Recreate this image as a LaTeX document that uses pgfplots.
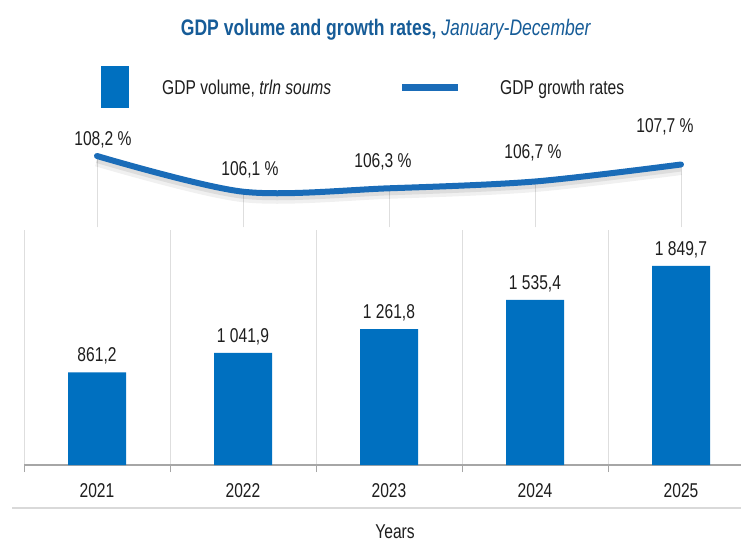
\documentclass[border=0pt]{standalone}
\usepackage{pgfplots}
\pgfplotsset{compat=1.18}
\usepackage{pgfplotstable}
\usepackage{fontspec}
\setmainfont{Liberation Sans}[FakeStretch=0.78]
\definecolor{barblue}{RGB}{0,112,192}
\definecolor{lineblue}{RGB}{26,108,184}
\definecolor{titleblue}{RGB}{22,92,152}
\definecolor{txt}{RGB}{30,30,30}

\pgfplotstableread{
x y lab
0 861.2 {861,2}
1 1041.9 {1 041,9}
2 1261.8 {1 261,8}
3 1535.4 {1 535,4}
4 1849.7 {1 849,7}
}\bardata

\pgfplotstableread{
x y lab dx dy
0 108.2 {108,2 \%} 6 10.5
1 106.1 {106,1 \%} 7 16.5
2 106.3 {106,3 \%} -6 20.5
3 106.7 {106,7 \%} -2 22.5
4 107.7 {107,7 \%} -16 31.5
}\topdata

\begin{document}
\begin{tikzpicture}
\useasboundingbox (0pt,0pt) rectangle (741pt,543pt);
\fill[white] (0pt,0pt) rectangle (741pt,543pt);

% title
\node[anchor=base, text=titleblue, font=\fontsize{22.5}{27}\selectfont] at (386pt,507pt)
  {\textbf{GDP volume and growth rates,} \textit{January-December}};

% legend
\fill[barblue] (101pt,435pt) rectangle (129pt,477pt);
\node[anchor=base west, text=txt, font=\fontsize{20}{24}\selectfont, inner sep=0pt] at (162pt,448pt)
  {GDP volume, \textit{trln soums}};
\draw[lineblue, line width=7pt] (402pt,455pt) -- (458pt,455pt);
\node[anchor=base west, text=txt, font=\fontsize{20}{24}\selectfont, inner sep=0pt] at (500pt,448pt)
  {GDP growth rates};

% bars
\begin{axis}[
  at={(24pt,78pt)}, anchor=south west,
  width=730pt, height=235pt, scale only axis,
  xmin=-0.5, xmax=4.5, ymin=0, ymax=2184,
  axis y line=none, axis x line*=bottom,
  axis line style={-},
  x axis line style={draw=black!35, line width=1.3pt},
  xtick={0,1,2,3,4}, xticklabels={2021,2022,2023,2024,2025},
  major tick length=0pt,
  minor xtick={-0.5,0.5,1.5,2.5,3.5,4.5},
  minor tick length=7pt, tick align=outside,
  minor tick style={draw=black!35, line width=1pt},
  xminorgrids=true, minor grid style={draw=black!13, line width=0.9pt},
  xticklabel style={anchor=base, yshift=-32.5pt, text=txt, font=\fontsize{20}{24}\selectfont},
  clip=false,
]
\addplot[ybar, bar width=58pt, fill=barblue, draw=none,
  nodes near coords, point meta=explicit symbolic,
  every node near coord/.append style={anchor=base, yshift=10.5pt, text=txt,
    font=\fontsize{20}{24}\selectfont}]
  table[x=x, y=y, meta=lab] {\bardata};
\end{axis}

% growth line
\begin{axis}[
  at={(24pt,315.6pt)}, anchor=south west,
  width=730pt, height=127.5pt, scale only axis,
  xmin=-0.5, xmax=4.5, ymin=104, ymax=111.5,
  hide axis, clip=true,
]
\addplot[ycomb, draw=black!13, line width=0.9pt, mark=none] table[x=x, y=y] {\topdata};
\addplot[smooth, tension=0.5, draw=black, opacity=0.06, line width=13pt, yshift=-4pt, mark=none]
  table[x=x, y=y] {\topdata};
\addplot[smooth, tension=0.5, draw=black, opacity=0.08, line width=8pt, yshift=-3pt, mark=none]
  table[x=x, y=y] {\topdata};
\addplot[smooth, tension=0.5, draw=lineblue, line width=6pt, line cap=round, mark=none]
  table[x=x, y=y] {\topdata};
\addplot[draw=none, mark=none,
  nodes near coords, point meta=explicit symbolic,
  visualization depends on={\thisrow{dx} \as \labdx},
  visualization depends on={\thisrow{dy} \as \labdy},
  every node near coord/.append style={anchor=base, xshift=\labdx pt, yshift=\labdy pt,
    text=txt, font=\fontsize{20}{24}\selectfont}]
  table[x=x, y=y, meta=lab] {\topdata};
\end{axis}

% bottom rule and axis title
\draw[black!15, line width=1.5pt] (12pt,35pt) -- (741pt,35pt);
\node[anchor=base, text=txt, font=\fontsize{20}{24}\selectfont] at (395pt,5pt) {Years};
\end{tikzpicture}
\end{document}
